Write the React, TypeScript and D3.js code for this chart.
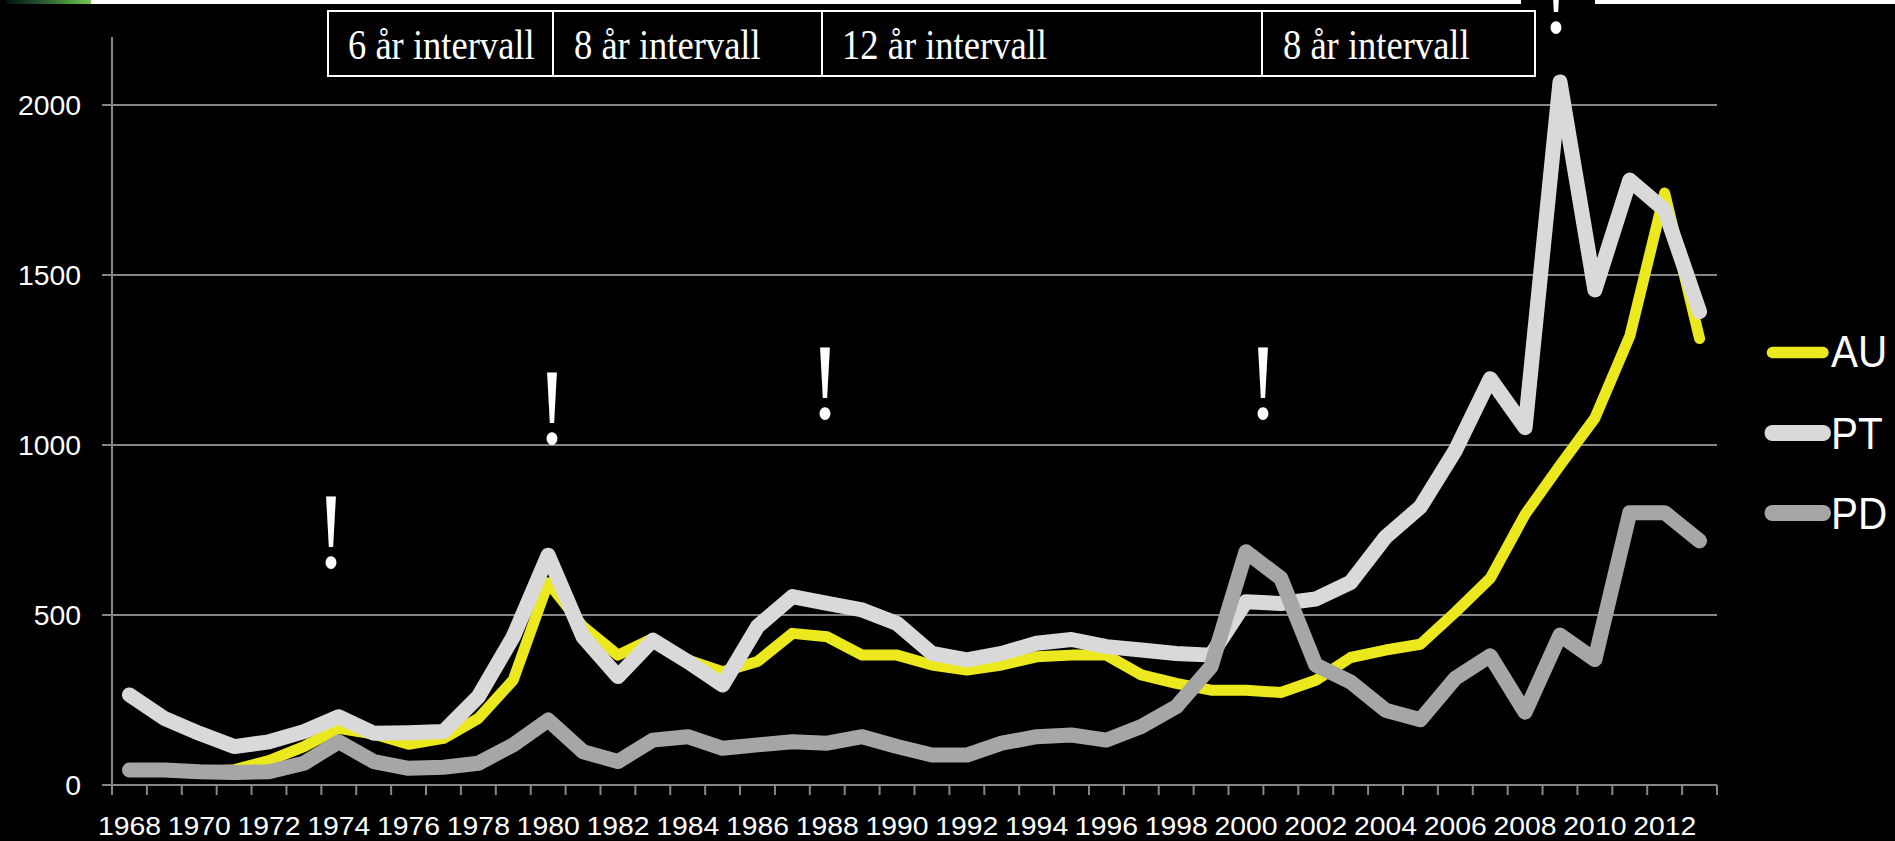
import React from 'react';
import * as d3 from 'd3';

// ---------- DATA ----------
const years = [
  1968, 1969, 1970, 1971, 1972, 1973, 1974, 1975, 1976, 1977,
  1978, 1979, 1980, 1981, 1982, 1983, 1984, 1985, 1986, 1987,
  1988, 1989, 1990, 1991, 1992, 1993, 1994, 1995, 1996, 1997,
  1998, 1999, 2000, 2001, 2002, 2003, 2004, 2005, 2006, 2007,
  2008, 2009, 2010, 2011, 2012, 2013,
];

const auValues = [
  40, 40, 40, 45, 72, 113, 167, 150, 120, 137,
  196, 309, 595, 466, 382, 431, 368, 333, 363, 446,
  436, 382, 382, 353, 338, 353, 377, 382, 382, 324,
  299, 279, 279, 272, 308, 375, 397, 414, 508, 608,
  796, 940, 1079, 1320, 1741, 1313,
];

const ptValues = [
  265, 196, 152, 113, 127, 157, 201, 152, 154, 157,
  260, 436, 676, 436, 319, 426, 363, 294, 466, 554,
  534, 515, 475, 387, 368, 387, 417, 428, 407, 397,
  387, 382, 539, 534, 547, 596, 729, 818, 984, 1195,
  1051, 2068, 1456, 1779, 1691, 1392,
];

const pdValues = [
  44, 44, 39, 37, 39, 64, 127, 69, 49, 52,
  64, 118, 191, 98, 69, 132, 142, 108, 118, 127,
  123, 142, 113, 88, 88, 123, 142, 147, 132, 172,
  230, 348, 686, 608, 353, 303, 220, 192, 314, 380,
  214, 441, 369, 801, 801, 718,
];

const seriesNames = ['AU', 'PT', 'PD'];
const yTicks = [0, 500, 1000, 1500, 2000];
const xLabelYears = [
  1968, 1970, 1972, 1974, 1976, 1978, 1980, 1982, 1984, 1986, 1988, 1990,
  1992, 1994, 1996, 1998, 2000, 2002, 2004, 2006, 2008, 2010, 2012,
];
const intervalLabels = ['6 år intervall', '8 år intervall', '12 år intervall', '8 år intervall'];

// ---------- LAYOUT / STYLE ----------
const W = 1895;
const H = 841;
const M = { left: 112, right: 1717, top: 37, bottom: 785 };
const Y_MAX = 2200;

const seriesStyle: Record<string, { color: string; width: number }> = {
  AU: { color: '#ECE81E', width: 11 },
  PT: { color: '#D9D9D9', width: 15 },
  PD: { color: '#A6A6A6', width: 15 },
};

const boxEdges = [328, 553, 822, 1262, 1535];
const boxTop = 11;
const boxBottom = 76;
const boxTextX = [348, 574, 842, 1283];

const bangs = [
  { x: 331, y: 567 },
  { x: 552, y: 443 },
  { x: 825, y: 418 },
  { x: 1263, y: 418 },
  { x: 1556, y: 32 },
];

const legendY = [352.5, 433, 513];
const legendTextBase = [367, 448.5, 528.5];

const sansFont = '"Liberation Sans", Arial, sans-serif';
const serifFont = '"Liberation Serif", "Times New Roman", serif';

export default function App() {
  const x = d3.scaleBand<number>().domain(years).range([M.left, M.right]).padding(0);
  const y = d3.scaleLinear().domain([0, Y_MAX]).range([M.bottom, M.top]);
  const cx = (yr: number) => (x(yr) as number) + x.bandwidth() / 2;

  const line = d3
    .line<number>()
    .x((_, i) => cx(years[i]))
    .y((d) => y(d))
    .curve(d3.curveLinear);

  const data: Record<string, number[]> = { AU: auValues, PT: ptValues, PD: pdValues };

  const tickXs = years.map((yr) => x(yr) as number).concat([M.right]);

  return (
    <svg
      width={W}
      height={H}
      style={{ position: 'absolute', left: 0, top: 0, display: 'block' }}
    >
      <defs>
        <linearGradient id="greenBar" x1="0" x2="1" y1="0" y2="0">
          <stop offset="0" stopColor="#07140f" />
          <stop offset="0.35" stopColor="#1f4a2c" />
          <stop offset="0.75" stopColor="#4f9a3c" />
          <stop offset="1" stopColor="#7cc25a" />
        </linearGradient>
      </defs>
      <rect x={0} y={0} width={W} height={H} fill="#000" />

      {/* gridlines */}
      {yTicks.map((t) => (
        <line
          key={'g' + t}
          x1={M.left - 10}
          x2={M.right}
          y1={y(t)}
          y2={y(t)}
          stroke="#868686"
          strokeWidth={2}
        />
      ))}
      {/* y axis */}
      <line x1={M.left} x2={M.left} y1={M.top} y2={M.bottom} stroke="#868686" strokeWidth={2} />
      {/* x ticks */}
      {tickXs.map((tx, i) => (
        <line key={'t' + i} x1={tx} x2={tx} y1={M.bottom} y2={M.bottom + 10} stroke="#868686" strokeWidth={2} />
      ))}

      {/* y labels */}
      {yTicks.map((t) => (
        <text
          key={'yl' + t}
          transform={`translate(81,${y(t) + 9.5}) scale(1.05,1)`}
          textAnchor="end"
          fill="#fff"
          fontFamily={sansFont}
          fontSize={27}
        >
          {t}
        </text>
      ))}
      {/* x labels */}
      {xLabelYears.map((yr) => (
        <text
          key={'xl' + yr}
          transform={`translate(${cx(yr)},835) scale(1.07,1)`}
          textAnchor="middle"
          fill="#fff"
          fontFamily={sansFont}
          fontSize={26.5}
        >
          {yr}
        </text>
      ))}

      {/* series */}
      {seriesNames.map((s) => (
        <path
          key={s}
          d={line(data[s]) || ''}
          fill="none"
          stroke={seriesStyle[s].color}
          strokeWidth={seriesStyle[s].width}
          strokeLinejoin="round"
          strokeLinecap="round"
        />
      ))}

      {/* legend */}
      {seriesNames.map((s, i) => (
        <g key={'lg' + s}>
          <line
            x1={1772.5}
            x2={1823}
            y1={legendY[i]}
            y2={legendY[i]}
            stroke={seriesStyle[s].color}
            strokeWidth={s === 'AU' ? 11.5 : 16}
            strokeLinecap="round"
          />
          <text
            transform={`translate(1831,${legendTextBase[i]}) scale(0.92,1)`}
            fill="#fff"
            fontFamily={sansFont}
            fontSize={44}
          >
            {s}
          </text>
        </g>
      ))}

      {/* exclamation marks */}
      {bangs.map((b, i) => (
        <text
          key={'b' + i}
          transform={`translate(${b.x},${b.y}) scale(0.85,1)`}
          textAnchor="middle"
          fill="#fff"
          fontFamily={serifFont}
          fontSize={108}
        >
          !
        </text>
      ))}

      {/* interval boxes */}
      {intervalLabels.map((lab, i) => (
        <g key={'box' + i}>
          <rect
            x={boxEdges[i]}
            y={boxTop}
            width={boxEdges[i + 1] - boxEdges[i]}
            height={boxBottom - boxTop}
            fill="#000"
            stroke="#fff"
            strokeWidth={2}
          />
          <text
            transform={`translate(${boxTextX[i]},59) scale(0.87,1)`}
            fill="#fff"
            fontFamily={serifFont}
            fontSize={42}
          >
            {lab}
          </text>
        </g>
      ))}

      {/* slide remnants at top */}
      <rect x={7} y={0} width={84} height={4} fill="url(#greenBar)" />
      <rect x={91} y={0} width={1430} height={4} fill="#fff" />
      <rect x={1595} y={0} width={W - 1595} height={4} fill="#fff" />
    </svg>
  );
}
